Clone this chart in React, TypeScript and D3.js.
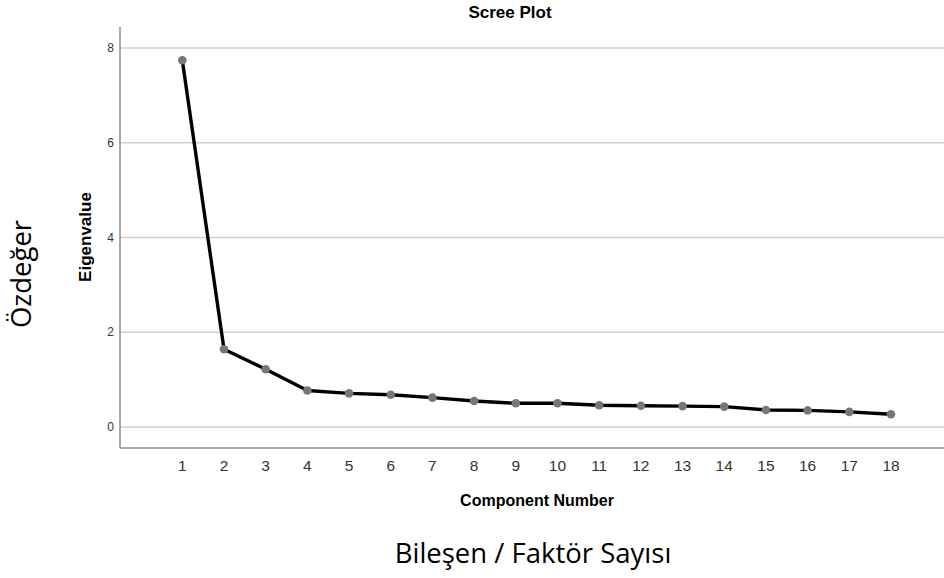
import * as React from "react";
import * as d3 from "d3";

// scree plot values
const components = [1, 2, 3, 4, 5, 6, 7, 8, 9, 10, 11, 12, 13, 14, 15, 16, 17, 18];
const eigenvalues = [7.74, 1.64, 1.22, 0.77, 0.71, 0.68, 0.62, 0.55, 0.5, 0.5, 0.46, 0.45, 0.44, 0.43, 0.36, 0.35, 0.32, 0.27];
const yTicks = [0, 2, 4, 6, 8];

const W = 944;
const H = 578;
const plot = { left: 120, right: 944, top: 27, bottom: 448 };

const App: React.FC = () => {
  const x = d3.scaleLinear().domain([1, 18]).range([182.3, 891]);
  const y = d3.scaleLinear().domain([0, 8]).range([427, 48]);

  const data = components.map((c, i) => ({ c, v: eigenvalues[i] }));
  const line = d3
    .line<{ c: number; v: number }>()
    .x((d) => x(d.c))
    .y((d) => y(d.v));

  const sans = "Arial, 'Liberation Sans', sans-serif";
  const big = "'Open Sans', 'Noto Sans', sans-serif";

  return (
    <svg
      width={W}
      height={H}
      style={{ position: "absolute", left: 0, top: 0, background: "#fff" }}
    >
      <text x={510} y={18} textAnchor="middle" fontFamily={sans} fontWeight="bold" fontSize={17} fill="#000">
        Scree Plot
      </text>

      {yTicks.map((t) => (
        <g key={t}>
          <line x1={plot.left} x2={plot.right} y1={y(t)} y2={y(t)} stroke="#cfcfcf" strokeWidth={1.3} />
          <text x={114} y={y(t) + 4} textAnchor="end" fontFamily={sans} fontSize={12} fill="#333">
            {t}
          </text>
        </g>
      ))}

      <line x1={plot.left} x2={plot.left} y1={plot.top} y2={plot.bottom} stroke="#8c8c8c" strokeWidth={1.5} />
      <line x1={plot.left} x2={plot.right} y1={plot.bottom} y2={plot.bottom} stroke="#8c8c8c" strokeWidth={1.5} />

      {components.map((c) => (
        <text key={c} x={x(c)} y={471} textAnchor="middle" fontFamily={sans} fontSize={15.5} fill="#333">
          {c}
        </text>
      ))}

      <path d={line(data) || ""} fill="none" stroke="#000" strokeWidth={3.4} strokeLinejoin="round" />
      {data.map((d) => (
        <circle key={d.c} cx={x(d.c)} cy={y(d.v)} r={4.3} fill="#777" />
      ))}

      <text x={537} y={506} textAnchor="middle" fontFamily={sans} fontWeight="bold" fontSize={16} fill="#000">
        Component Number
      </text>
      <text
        transform={`translate(91, 237) rotate(-90)`}
        textAnchor="middle"
        fontFamily={sans}
        fontWeight="bold"
        fontSize={17}
        fill="#000"
      >
        Eigenvalue
      </text>

      <text
        transform={`translate(31, 274) rotate(-90)`}
        textAnchor="middle"
        fontFamily={big}
        fontSize={27.5}
        fill="#000"
      >
        Özdeğer
      </text>
      <text x={533} y={563} textAnchor="middle" fontFamily={big} fontSize={27.5} fill="#000">
        Bileşen / Faktör Sayısı
      </text>
    </svg>
  );
};

export default App;
